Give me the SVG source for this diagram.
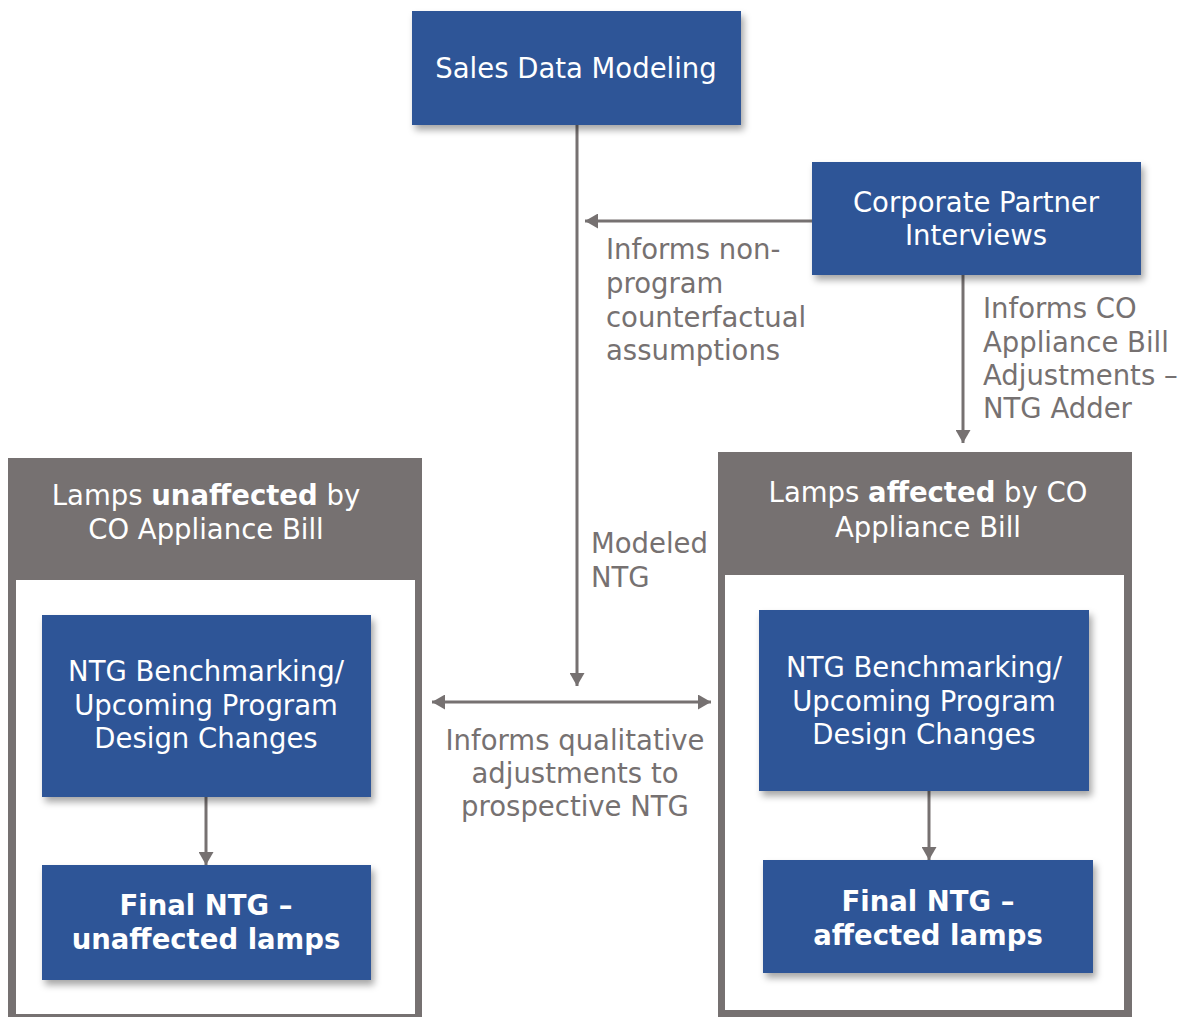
<svg xmlns="http://www.w3.org/2000/svg" width="1188" height="1017" viewBox="0 0 1188 1017">
<style>
  text { font-family: "DejaVu Sans", Verdana, sans-serif; font-size: 27.5px; }
  .box { fill: #2F5597; filter: url(#shadow); }
  .wt { fill: #FFFFFF; text-anchor: middle; }
  .b { font-weight: bold; }
  .lbl { fill: #767171; }
  .mid { text-anchor: middle; }
  .frame { fill: #767171; }
  .inner { fill: #FFFFFF; }
  .conn { stroke: #767171; stroke-width: 3; fill: none; }
</style>
<defs>
  <filter id="shadow" x="-10%" y="-10%" width="125%" height="135%">
    <feDropShadow dx="3" dy="5" stdDeviation="3.5" flood-color="#000000" flood-opacity="0.35"/>
  </filter>
  <marker id="arr" viewBox="0 0 13 15" refX="13" refY="7.5" markerWidth="13" markerHeight="15" markerUnits="userSpaceOnUse" orient="auto-start-reverse">
    <path d="M0,0 L13,7.5 L0,15 z" fill="#767171"/>
  </marker>
</defs>
<rect width="1188" height="1017" fill="#FFFFFF"/>

<g id="container-unaffected">
  <rect class="frame" x="8" y="458" width="414" height="565"/>
  <rect class="inner" x="16" y="580" width="399" height="434"/>
  <text class="wt" x="206" y="505">Lamps <tspan class="b">unaffected</tspan> by</text>
  <text class="wt" x="206" y="539">CO Appliance Bill</text>
</g>

<g id="container-affected">
  <rect class="frame" x="718" y="452" width="414" height="570"/>
  <rect class="inner" x="725" y="575" width="399" height="435"/>
  <text class="wt" x="928" y="502">Lamps <tspan class="b">affected</tspan> by CO</text>
  <text class="wt" x="928" y="537">Appliance Bill</text>
</g>

<g id="connectors">
  <line class="conn" x1="577" y1="125" x2="577" y2="686" marker-end="url(#arr)"/>
  <line class="conn" x1="812" y1="221" x2="585" y2="221" marker-end="url(#arr)"/>
  <line class="conn" x1="963" y1="275" x2="963" y2="443" marker-end="url(#arr)"/>
  <line class="conn" x1="432" y1="702" x2="711" y2="702" marker-start="url(#arr)" marker-end="url(#arr)"/>
  <line class="conn" x1="206" y1="797" x2="206" y2="865" marker-end="url(#arr)"/>
  <line class="conn" x1="929" y1="791" x2="929" y2="860" marker-end="url(#arr)"/>
</g>

<g id="labels">
  <text class="lbl" x="606" y="259">Informs non-</text>
  <text class="lbl" x="606" y="293">program</text>
  <text class="lbl" x="606" y="327">counterfactual</text>
  <text class="lbl" x="606" y="360">assumptions</text>

  <text class="lbl" x="983" y="318">Informs CO</text>
  <text class="lbl" x="983" y="352">Appliance Bill</text>
  <text class="lbl" x="983" y="385">Adjustments –</text>
  <text class="lbl" x="983" y="418">NTG Adder</text>

  <text class="lbl" x="591" y="553">Modeled</text>
  <text class="lbl" x="591" y="587">NTG</text>

  <text class="lbl mid" x="575" y="750">Informs qualitative</text>
  <text class="lbl mid" x="575" y="783">adjustments to</text>
  <text class="lbl mid" x="575" y="816">prospective NTG</text>
</g>

<g id="sales-data-modeling">
  <rect class="box" x="412" y="11" width="329" height="114"/>
  <text class="wt" x="576" y="78">Sales Data Modeling</text>
</g>

<g id="corporate-partner-interviews">
  <rect class="box" x="812" y="162" width="329" height="113"/>
  <text class="wt" x="976" y="212">Corporate Partner</text>
  <text class="wt" x="976" y="245">Interviews</text>
</g>

<g id="benchmark-unaffected">
  <rect class="box" x="42" y="615" width="329" height="182"/>
  <text class="wt" x="206" y="681">NTG Benchmarking/</text>
  <text class="wt" x="206" y="715">Upcoming Program</text>
  <text class="wt" x="206" y="748">Design Changes</text>
</g>

<g id="final-unaffected">
  <rect class="box" x="42" y="865" width="329" height="115"/>
  <text class="wt b" x="206" y="915">Final NTG –</text>
  <text class="wt b" x="206" y="949">unaffected lamps</text>
</g>

<g id="benchmark-affected">
  <rect class="box" x="759" y="610" width="330" height="181"/>
  <text class="wt" x="924" y="677">NTG Benchmarking/</text>
  <text class="wt" x="924" y="711">Upcoming Program</text>
  <text class="wt" x="924" y="744">Design Changes</text>
</g>

<g id="final-affected">
  <rect class="box" x="763" y="860" width="330" height="113"/>
  <text class="wt b" x="928" y="911">Final NTG –</text>
  <text class="wt b" x="928" y="945">affected lamps</text>
</g>
</svg>
